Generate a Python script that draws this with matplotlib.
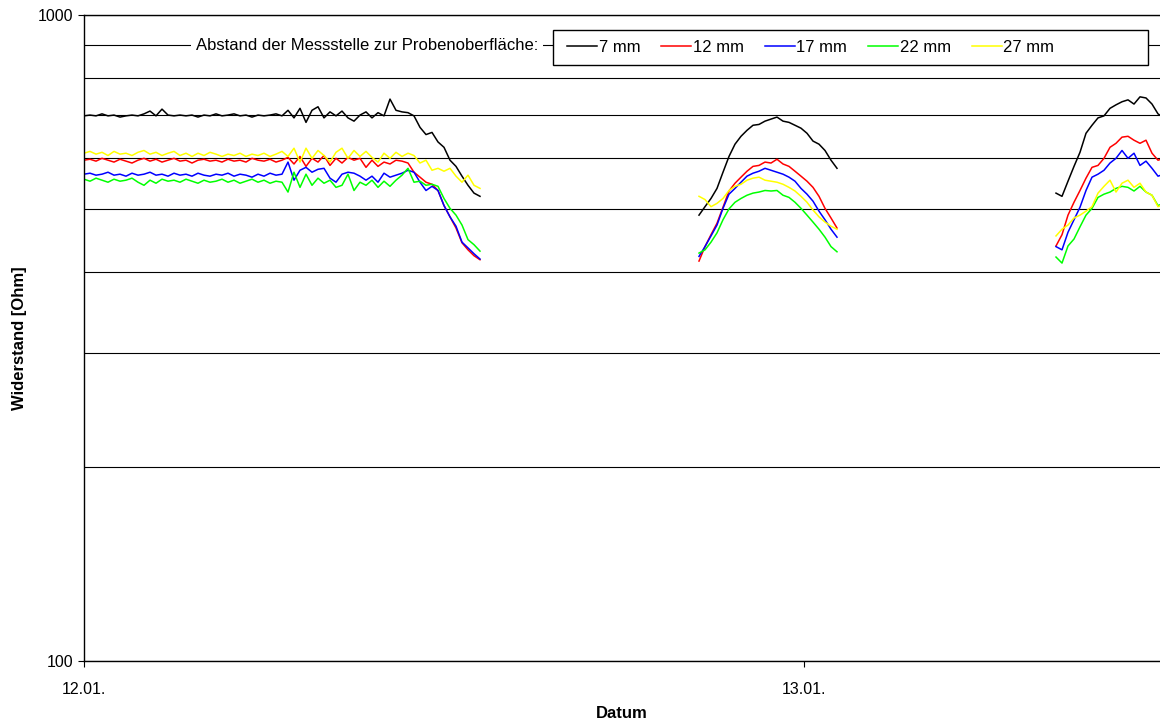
import numpy as np
import matplotlib
matplotlib.use('Agg')
import matplotlib.pyplot as plt
from matplotlib.patches import Rectangle
from matplotlib.ticker import FixedLocator, NullFormatter

plt.rcParams['font.family'] = ['Liberation Sans', 'DejaVu Sans']

# time in hours since 12.01. 00:00, three logging periods
t1 = np.round(np.arange(67) * 0.2, 1)
t2 = np.round(20.5 + np.arange(24) * 0.2, 1)
t3 = np.round(32.4 + np.arange(19) * 0.2, 1)

labels = ['7 mm', '12 mm', '17 mm', '22 mm', '27 mm']
colors = ['#000000', '#ff0000', '#0000ff', '#00ff00', '#ffff00']

# resistance [Ohm]
r7_1 = [698,700,698,703,698,700,695,698,700,698,703,710,698,715,700,698,700,698,700,695,
        700,698,703,698,700,703,698,700,695,700,698,700,703,698,712,693,717,682,712,721,
        693,708,698,710,693,685,700,708,693,706,698,741,712,708,706,698,670,653,658,636,
        624,596,583,563,545,530,524]
r12_1 = [596,598,594,600,596,592,598,594,590,596,600,594,598,592,596,600,594,596,590,596,
         598,594,596,592,598,594,596,592,600,596,594,598,592,596,602,588,604,583,600,592,
         606,585,600,590,602,596,600,581,596,583,592,588,596,594,590,571,561,551,547,535,
         507,487,468,444,433,424,418]
r17_1 = [567,569,565,567,571,565,567,563,569,565,567,571,565,567,563,569,565,567,563,569,
         565,563,567,565,569,563,567,565,561,567,563,569,565,567,592,555,575,581,571,577,
         579,559,551,567,571,569,563,555,563,551,569,561,565,569,575,571,551,535,543,535,
         507,487,471,445,436,427,419]
r22_1 = [557,553,559,555,551,557,553,555,559,551,545,555,549,557,553,555,551,557,553,549,
         555,551,553,557,551,555,549,553,557,551,555,549,553,551,532,571,541,567,545,559,
         549,555,541,545,567,535,551,545,555,541,553,543,555,565,579,551,553,545,547,543,
         520,502,490,473,449,441,431]
r27_1 = [611,615,609,613,606,615,609,611,606,613,617,609,613,606,611,615,606,611,604,611,
         606,613,609,604,609,606,611,604,609,606,611,604,609,615,604,622,592,622,600,617,
         606,592,613,622,600,617,604,615,602,592,611,600,613,604,611,606,590,596,575,579,
         573,579,563,551,565,545,539]

r7_2 = [490,505,520,539,571,604,631,649,663,675,677,685,690,695,685,682,675,668,656,638,631,617,596,579]
r12_2 = [416,438,457,476,504,534,549,561,573,583,585,592,590,598,588,583,573,563,553,541,524,502,485,468]
r17_2 = [423,438,455,473,502,528,539,551,563,569,573,579,575,571,567,561,553,539,528,515,497,482,466,453]
r22_2 = [428,433,445,460,482,501,513,520,526,530,532,535,534,535,526,522,513,502,490,478,466,453,438,430]
r27_2 = [524,518,505,511,520,535,543,547,555,559,561,555,553,551,547,541,534,524,513,499,487,478,471,466]

r7_3 = [530,524,553,583,613,656,675,693,698,717,726,734,739,728,747,744,728,703,693]
r12_3 = [439,457,490,513,535,559,581,585,600,624,633,647,649,640,633,640,611,596,600]
r17_3 = [438,433,461,482,504,535,561,567,575,590,600,617,600,611,585,594,579,563,567]
r22_3 = [422,413,439,450,470,490,502,522,528,532,539,543,541,534,543,532,526,507,511]
r27_3 = [455,466,473,485,490,497,505,530,543,555,532,549,555,541,549,532,526,505,509]

series = [(r7_1, r7_2, r7_3), (r12_1, r12_2, r12_3), (r17_1, r17_2, r17_3),
          (r22_1, r22_2, r22_3), (r27_1, r27_2, r27_3)]

W, H = 1160, 724
fig = plt.figure(figsize=(W/100, H/100), dpi=100)
ax = fig.add_axes([84/W, 1-661/H, 1076/W, 646/H])

gap = [np.nan]
t_all = np.concatenate([t1, gap, t2, gap, t3])
handles = []
for (s1, s2, s3), c, lab in zip(series, colors, labels):
    y = np.concatenate([s1, gap, s2, gap, s3])
    h, = ax.plot(t_all, y, color=c, lw=1.1, label=lab)
    handles.append(h)

ax.set_yscale('log')
ax.set_ylim(100, 1000)
ax.set_xlim(0, 1076/30)

ax.yaxis.set_major_locator(FixedLocator([100, 1000]))
ax.yaxis.set_minor_locator(FixedLocator([200, 300, 400, 500, 600, 700, 800, 900]))
ax.yaxis.set_minor_formatter(NullFormatter())
ax.set_yticklabels(['100', '1000'])
ax.yaxis.grid(True, which='both', color='black', lw=0.8)
ax.set_axisbelow(True)

ax.set_xticks([0, 24])
ax.set_xticklabels(['12.01.', '13.01.'])

ax.tick_params(axis='both', which='major', direction='out', length=4, width=0.8, labelsize=11.5)
ax.tick_params(axis='x', pad=11)
ax.tick_params(axis='y', which='minor', length=0)

ax.spines['right'].set_visible(False)
for sp in ['left', 'bottom', 'top']:
    ax.spines[sp].set_linewidth(1.0)

ax.set_ylabel('Widerstand [Ohm]', fontsize=12, fontweight='bold')
ax.yaxis.set_label_coords((27-84)/1076, 0.5)
ax.set_xlabel('Datum', fontsize=12, fontweight='bold')
ax.xaxis.set_label_coords(0.5, (661-706)/646)

# legend title sits on the 900 Ohm line
fig.text(538/W, 1-46/H, 'Abstand der Messstelle zur Probenoberfläche:',
         ha='right', va='center', fontsize=12,
         bbox=dict(boxstyle='square,pad=0.3', fc='white', ec='none'))

# legend frame is wider than its entries
fig.patches.append(Rectangle((553/W, 1-65/H), 595/W, 35/H, transform=fig.transFigure,
                             fc='white', ec='black', lw=1.0, zorder=3))
leg = fig.legend(handles=handles, loc='center left', ncol=5,
                 bbox_to_anchor=(567/W, 1-47.5/H),
                 fontsize=12, frameon=False, handlelength=1.8, handletextpad=0.1,
                 columnspacing=1.25, borderpad=0, borderaxespad=0)
leg.set_zorder(4)

fig.savefig('out.png', dpi=100)
